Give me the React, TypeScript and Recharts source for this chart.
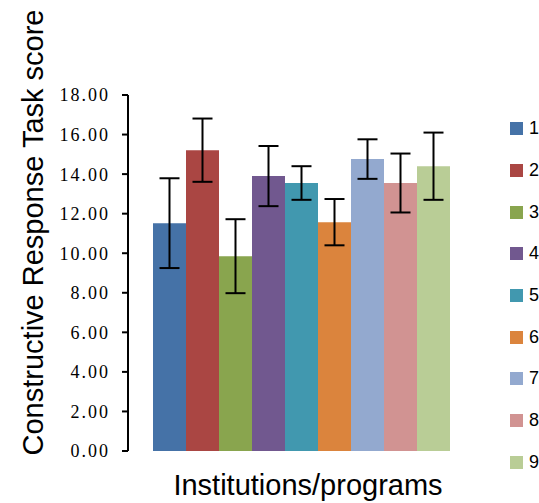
import React from "react";
import { Bar, BarChart, ErrorBar, Legend, XAxis, YAxis } from "recharts";

const groups = ["1", "2", "3", "4", "5", "6", "7", "8", "9"];
const means = [11.52, 15.21, 9.85, 13.9, 13.55, 11.57, 14.76, 13.55, 14.4];
const errors = [2.27, 1.6, 1.87, 1.52, 0.85, 1.17, 1.0, 1.49, 1.7];
const colors = ["#4572A7", "#AA4643", "#89A54E", "#71588F", "#4198AF", "#DB843D", "#93A9CF", "#D19392", "#B9CD96"];
const yTicks = [0, 2, 4, 6, 8, 10, 12, 14, 16, 18];

const row: Record<string, number | string> = { name: "" };
groups.forEach((g, i) => {
  row["m" + g] = means[i];
  row["e" + g] = errors[i];
});
const data = [row];

const sans = "'Liberation Sans', Arial, sans-serif";

function LegendList(props: any) {
  const payload = props.payload || [];
  return (
    <div style={{ fontFamily: sans, fontSize: 18, color: "#000" }}>
      {payload.map((p: any) => (
        <div key={p.value} style={{ height: 41.7, display: "flex", alignItems: "center" }}>
          <span style={{ display: "inline-block", width: 13, height: 13, background: p.color, marginRight: 6 }} />
          <span>{p.value}</span>
        </div>
      ))}
    </div>
  );
}

export default function App() {
  return (
    <div style={{ position: "absolute", left: 0, top: 0 }}>
      <BarChart
        width={539}
        height={503}
        data={data}
        margin={{ top: 95, right: 66, bottom: 52, left: 60 }}
        barCategoryGap={25}
        barGap={0}
      >
        <XAxis dataKey="name" tick={false} tickLine={false} height={0}
               axisLine={{ stroke: "#000", strokeWidth: 2 }}/>
        <XAxis xAxisId="edge" type="number" domain={[0, 1]} ticks={[0, 1]} height={0}
               axisLine={false} tickSize={7} tickFormatter={() => ""}
               tickLine={{ stroke: "#000", strokeWidth: 2 }}/>
        <YAxis domain={[0, 18]} ticks={yTicks} width={68} interval={0}
               tickFormatter={(v: number) => v.toFixed(2)}
               tickSize={6} tickMargin={12}
               axisLine={{ stroke: "#000", strokeWidth: 2 }}
               tickLine={{ stroke: "#000", strokeWidth: 2 }}
               tick={{ fill: "#000", fontSize: 18, fontFamily: "'Liberation Serif', 'Times New Roman', serif", letterSpacing: 2 }}/>
        <Legend layout="horizontal" verticalAlign="middle" align="center" content={<LegendList/>}
                wrapperStyle={{ left: 510, top: 108, width: 40 }}/>
        {groups.map((g, i) => (
          <Bar key={g} dataKey={"m" + g} name={g} fill={colors[i]} legendType="square" isAnimationActive={false}>
            <ErrorBar dataKey={"e" + g} width={10} stroke="#000" strokeWidth={2} direction="y"/>
          </Bar>
        ))}
        <text x={42.5} y={232.5} transform="rotate(-90, 42.5, 232.5)" textAnchor="middle"
              fontFamily={sans} fontSize={29} fill="#000">
          Constructive Response Task score
        </text>
        <text x={308} y={495} textAnchor="middle" fontFamily={sans} fontSize={29} fill="#000">
          Institutions/programs
        </text>
      </BarChart>
    </div>
  );
}
